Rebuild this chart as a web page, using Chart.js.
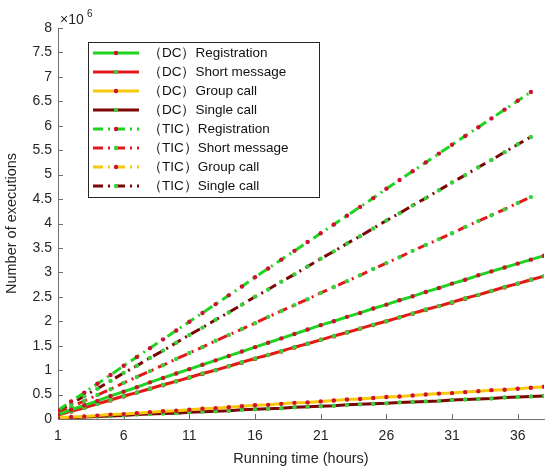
<!DOCTYPE html>
<html>
<head>
<meta charset="utf-8">
<script src="https://cdn.jsdelivr.net/npm/chart.js@4.4.0/dist/chart.umd.min.js"></script>
<style>
  html, body { margin: 0; padding: 0; background: #fff; }
  #wrap { width: 554px; height: 472px; }
</style>
</head>
<body>
<div id="wrap"><canvas id="chart" width="554" height="472"></canvas></div>
<script>
// running time (hours)
const hoursDC = [1,2,3,4,5,6,7,8,9,10,11,12,13,14,15,16,17,18,19,20,21,22,23,24,25,26,27,28,29,30,31,32,33,34,35,36,37,38];
const hoursTIC = [1,2,3,4,5,6,7,8,9,10,11,12,13,14,15,16,17,18,19,20,21,22,23,24,25,26,27,28,29,30,31,32,33,34,35,36,37];
const xTicks = [1, 6, 11, 16, 21, 26, 31, 36];

// number of executions, in units of 10^6
const dcRegistration = [0.09,0.19,0.28,0.37,0.47,0.56,0.65,0.75,0.84,0.93,
  1.02,1.11,1.20,1.29,1.38,1.47,1.56,1.65,1.74,1.83,
  1.92,2.00,2.09,2.17,2.26,2.34,2.43,2.51,2.60,2.68,
  2.77,2.85,2.94,3.02,3.10,3.18,3.26,3.34];
const dcShortMessage = [0.08,0.16,0.23,0.31,0.39,0.47,0.54,0.62,0.70,0.77,
  0.85,0.93,1.00,1.08,1.16,1.24,1.31,1.39,1.47,1.54,
  1.62,1.70,1.77,1.85,1.93,2.00,2.08,2.16,2.24,2.31,
  2.39,2.47,2.54,2.62,2.70,2.77,2.85,2.92];
const dcGroupCall = [0.02,0.04,0.05,0.07,0.09,0.10,0.12,0.14,0.16,0.17,
  0.19,0.21,0.22,0.24,0.26,0.28,0.29,0.31,0.33,0.34,
  0.36,0.38,0.40,0.41,0.43,0.45,0.46,0.48,0.50,0.52,
  0.53,0.55,0.57,0.59,0.60,0.62,0.64,0.66];
const dcSingleCall = [0.01,0.02,0.04,0.05,0.06,0.07,0.09,0.10,0.11,0.12,
  0.14,0.15,0.16,0.17,0.19,0.20,0.21,0.22,0.24,0.25,
  0.26,0.27,0.29,0.30,0.31,0.32,0.34,0.35,0.36,0.37,
  0.39,0.40,0.41,0.42,0.44,0.45,0.46,0.47];
const ticRegistration = [0.18,0.36,0.54,0.72,0.90,1.09,1.27,1.45,1.63,1.81,
  1.99,2.17,2.35,2.53,2.71,2.90,3.08,3.26,3.44,3.62,
  3.80,3.98,4.16,4.34,4.52,4.71,4.89,5.07,5.25,5.43,
  5.61,5.79,5.97,6.15,6.33,6.51,6.69];
const ticShortMessage = [0.12,0.25,0.37,0.49,0.61,0.74,0.86,0.98,1.10,1.23,
  1.35,1.47,1.60,1.72,1.84,1.96,2.09,2.21,2.33,2.45,
  2.58,2.70,2.82,2.94,3.07,3.19,3.31,3.44,3.56,3.68,
  3.80,3.93,4.05,4.17,4.29,4.42,4.54];
const ticGroupCall = [0.08,0.15,0.23,0.31,0.38,0.46,0.54,0.62,0.69,0.77,
  0.85,0.92,1.00,1.08,1.15,1.23,1.31,1.38,1.46,1.54,
  1.62,1.69,1.77,1.85,1.92,2.00,2.08,2.15,2.23,2.31,
  2.38,2.46,2.54,2.62,2.69,2.77,2.85];
const ticSingleCall = [0.16,0.31,0.47,0.62,0.78,0.94,1.09,1.25,1.40,1.56,
  1.72,1.87,2.03,2.18,2.34,2.50,2.65,2.81,2.96,3.12,
  3.28,3.43,3.59,3.74,3.90,4.06,4.21,4.37,4.52,4.68,
  4.84,4.99,5.15,5.30,5.46,5.62,5.77];

const GREEN = '#1fd41f', RED = '#e3181c', YELLOW = '#f8c80c', DARKRED = '#7d0505';
const MRED = '#d01030', MGREEN = '#3ccf3c';
const DASHDOT = [10, 5, 2, 5];
const FONT = '"Liberation Sans", Arial, Helvetica, sans-serif';

function pts(xs, ys) {
  return xs.map((x, i) => ({ x: x, y: ys[i] }));
}

function series(label, xs, ys, color, marker, dash) {
  return {
    label: label,
    data: pts(xs, ys),
    borderColor: color,
    backgroundColor: color,
    borderWidth: 3,
    borderDash: dash,
    pointRadius: 2.2,
    pointBorderWidth: 0,
    pointBackgroundColor: marker,
    pointBorderColor: marker,
    tension: 0,
    fill: false
  };
}

const datasets = [
  series('（DC）Registration', hoursDC, dcRegistration, GREEN, MRED, []),
  series('（DC）Short message', hoursDC, dcShortMessage, RED, MGREEN, []),
  series('（DC）Group call', hoursDC, dcGroupCall, YELLOW, MRED, []),
  series('（DC）Single call', hoursDC, dcSingleCall, DARKRED, MGREEN, []),
  series('（TIC）Registration', hoursTIC, ticRegistration, GREEN, MRED, DASHDOT),
  series('（TIC）Short message', hoursTIC, ticShortMessage, RED, MGREEN, DASHDOT),
  series('（TIC）Group call', hoursTIC, ticGroupCall, YELLOW, MRED, DASHDOT),
  series('（TIC）Single call', hoursTIC, ticSingleCall, DARKRED, MGREEN, DASHDOT)
];

// inward tick marks, matlab style
const innerTicks = {
  id: 'innerTicks',
  beforeDatasetsDraw(chart) {
    const ctx = chart.ctx, xs = chart.scales.x, ys = chart.scales.y;
    const a = chart.chartArea;
    ctx.save();
    ctx.strokeStyle = '#707070';
    ctx.lineWidth = 1;
    ctx.beginPath();
    xs.ticks.forEach(t => {
      const px = Math.round(xs.getPixelForValue(t.value)) + 0.5;
      ctx.moveTo(px, a.bottom); ctx.lineTo(px, a.bottom - 5);
    });
    ys.ticks.forEach(t => {
      const py = Math.round(ys.getPixelForValue(t.value)) + 0.5;
      ctx.moveTo(a.left, py); ctx.lineTo(a.left + 5, py);
    });
    ctx.stroke();
    ctx.restore();
  }
};

// legend box inside the plot + exponent label
const legendBox = {
  id: 'legendBox',
  afterDraw(chart) {
    const ctx = chart.ctx;
    ctx.save();
    ctx.fillStyle = '#fff';
    ctx.fillRect(88.5, 42.5, 231, 155);
    ctx.strokeStyle = '#262626';
    ctx.lineWidth = 1;
    ctx.strokeRect(88.5, 42.5, 231, 155);
    chart.data.datasets.forEach((ds, i) => {
      const y = 53 + i * 19;
      ctx.strokeStyle = ds.borderColor;
      ctx.lineWidth = ds.borderWidth;
      ctx.setLineDash(ds.borderDash);
      ctx.beginPath();
      ctx.moveTo(93, y); ctx.lineTo(139, y);
      ctx.stroke();
      ctx.setLineDash([]);
      ctx.fillStyle = ds.pointBackgroundColor;
      ctx.beginPath();
      ctx.arc(116, y, 2.2, 0, Math.PI * 2);
      ctx.fill();
      ctx.fillStyle = '#111';
      ctx.font = '13.5px ' + FONT;
      ctx.textBaseline = 'middle';
      ctx.fillText(ds.label, 148, y + 0.5);
    });

    ctx.fillStyle = '#262626';
    ctx.textBaseline = 'alphabetic';
    ctx.font = '14px ' + FONT;
    ctx.fillText('×10', 60, 24);
    ctx.font = '10px ' + FONT;
    ctx.fillText('6', 87, 17);
    ctx.restore();
  }
};

new Chart(document.getElementById('chart'), {
  type: 'line',
  data: { datasets: datasets },
  options: {
    responsive: false,
    animation: false,
    devicePixelRatio: 1,
    layout: { padding: { left: 0, top: 28, right: 10, bottom: 0 } },
    plugins: {
      legend: { display: false },
      tooltip: { enabled: false }
    },
    scales: {
      x: {
        type: 'linear',
        min: 1,
        max: 38,
        grid: { display: false, drawTicks: false },
        border: { display: true, color: '#707070', width: 1 },
        afterBuildTicks: s => { s.ticks = xTicks.map(v => ({ value: v })); },
        afterFit: s => { s.height = 53; },
        ticks: {
          color: '#262626',
          padding: 9,
          maxRotation: 0,
          font: { family: FONT, size: 14 }
        },
        title: {
          display: true,
          text: 'Running time (hours)',
          color: '#262626',
          font: { family: FONT, size: 14.5 },
          padding: { top: 0, bottom: 4 }
        }
      },
      y: {
        min: 0,
        max: 8,
        grid: { display: false, drawTicks: false },
        border: { display: true, color: '#707070', width: 1 },
        afterFit: s => { s.width = 58; },
        ticks: {
          stepSize: 0.5,
          color: '#262626',
          padding: 6,
          font: { family: FONT, size: 14 },
          callback: v => String(v)
        },
        title: {
          display: true,
          text: 'Number of executions',
          color: '#262626',
          font: { family: FONT, size: 14.5 },
          padding: { top: 3, bottom: 0 }
        }
      }
    }
  },
  plugins: [innerTicks, legendBox]
});
</script>
</body>
</html>
